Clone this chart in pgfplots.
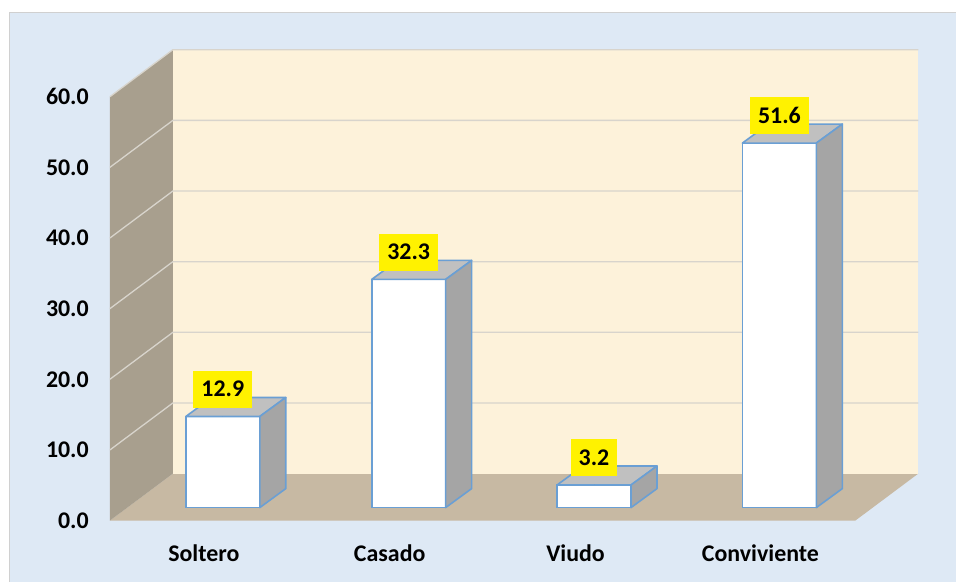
\documentclass[border=0pt]{standalone}
\usepackage{pgfplots}
\usepackage{pgfplotstable}
\pgfplotsset{compat=1.18}
\usepackage{fontspec}
\setmainfont{Carlito}
\definecolor{panel}{RGB}{222,233,245}
\definecolor{panelborder}{RGB}{208,208,208}
\definecolor{backwall}{RGB}{253,242,218}
\definecolor{leftwall}{RGB}{168,159,142}
\definecolor{floorc}{RGB}{199,185,163}
\definecolor{gridc}{RGB}{216,212,204}
\definecolor{edge}{RGB}{106,159,212}
\definecolor{topgray}{RGB}{192,192,192}
\definecolor{sidegray}{RGB}{165,165,165}
\pgfplotstableread{
x v
223 12.9
409 32.3
594.5 3.2
780 51.6
}\bardata
\begin{document}
\begin{tikzpicture}
\begin{axis}[
  at={(0,0)}, anchor=south west,
  x=1bp, y=7.07bp,
  xmin=0, xmax=957, ymin=-8.628, ymax=73.69,
  clip=false, axis on top=true,
  axis line style={draw=none},
  major tick length=0pt,
  tick style={draw=none},
  ytick={0,10,...,60},
  xtick={204,390,576,761},
  xticklabels={Soltero,Casado,Viudo,Conviviente},
  /pgf/number format/assume math mode=true,
  yticklabel style={/pgf/number format/.cd, fixed, fixed zerofill, precision=1, /tikz/.cd,
    anchor=east, inner sep=0pt, xshift=89bp, font=\bfseries\fontsize{24}{28}\selectfont},
  xticklabel style={anchor=base, inner sep=0pt, yshift=20.5bp, font=\bfseries\fontsize{24}{28}\selectfont},
]
% panel
\addplot[fill=white, draw=none] coordinates {(0,-8.628) (957,-8.628) (957,73.69) (0,73.69)} -- cycle;
\addplot[fill=panel, draw=none] coordinates {(9,-8.628) (957,-8.628) (957,71.99) (9,71.99)} -- cycle;
\addplot[draw=panelborder, line width=1.5bp] coordinates {(9.5,-8.628) (9.5,71.92) (957,71.92)};
% floor and walls
\addplot[fill=floorc, draw=none] coordinates {(110,0) (856,0) (919,6.65) (173,6.65)} -- cycle;
\addplot[fill=leftwall, draw=none] coordinates {(110,0) (173,6.65) (173,66.65) (110,60)} -- cycle;
\addplot[fill=backwall, draw=none] coordinates {(173,6.65) (919,6.65) (919,66.65) (173,66.65)} -- cycle;
% grid lines
\addplot[draw=gridc, line width=1.3bp] coordinates {(110,10) (173,16.65) (919,16.65)};
\addplot[draw=gridc, line width=1.3bp] coordinates {(110,20) (173,26.65) (919,26.65)};
\addplot[draw=gridc, line width=1.3bp] coordinates {(110,30) (173,36.65) (919,36.65)};
\addplot[draw=gridc, line width=1.3bp] coordinates {(110,40) (173,46.65) (919,46.65)};
\addplot[draw=gridc, line width=1.3bp] coordinates {(110,50) (173,56.65) (919,56.65)};
\addplot[draw=gridc, line width=1.3bp] coordinates {(110,60) (173,66.65) (919,66.65)};
\end{axis}
\begin{axis}[
  at={(0,0)}, anchor=south west,
  x=1bp, y=7.07bp,
  xmin=0, xmax=957, ymin=-10.467, ymax=71.851,
  clip=false, hide axis,
  /pgf/number format/assume math mode=true,
]
\addplot[scatter, only marks, mark=*, mark size=0pt,
  mark options={draw=none, fill=none},
  visualization depends on={rawy \as \v},
  scatter/@pre marker code/.code={%
    \filldraw[fill=topgray, draw=edge, line width=1.6bp, line join=round]
      (-37bp,0bp) -- (37bp,0bp) -- (63bp,19bp) -- (-11bp,19bp) -- cycle;
    \filldraw[fill=sidegray, draw=edge, line width=1.6bp, line join=round]
      (37bp,0bp) -- (63bp,19bp) -- (63bp,{19bp-\v*7.07bp}) -- (37bp,{-\v*7.07bp}) -- cycle;
  },
  scatter/@post marker code/.code={},
] table[x=x, y=v] {\bardata};
\addplot[ybar, bar width=74, bar shift=0pt, fill=white, draw=edge, line width=1.6bp,
  nodes near coords={\pgfmathprintnumber[fixed, fixed zerofill, precision=1]{\pgfplotspointmeta}},
  every node near coord/.append style={anchor=south, yshift=8bp, fill=yellow, text=black,
    inner xsep=8bp, inner ysep=0pt, minimum height=37bp,
    font=\bfseries\fontsize{24}{28}\selectfont},
] table[x=x, y=v] {\bardata};
\end{axis}
\end{tikzpicture}
\end{document}
